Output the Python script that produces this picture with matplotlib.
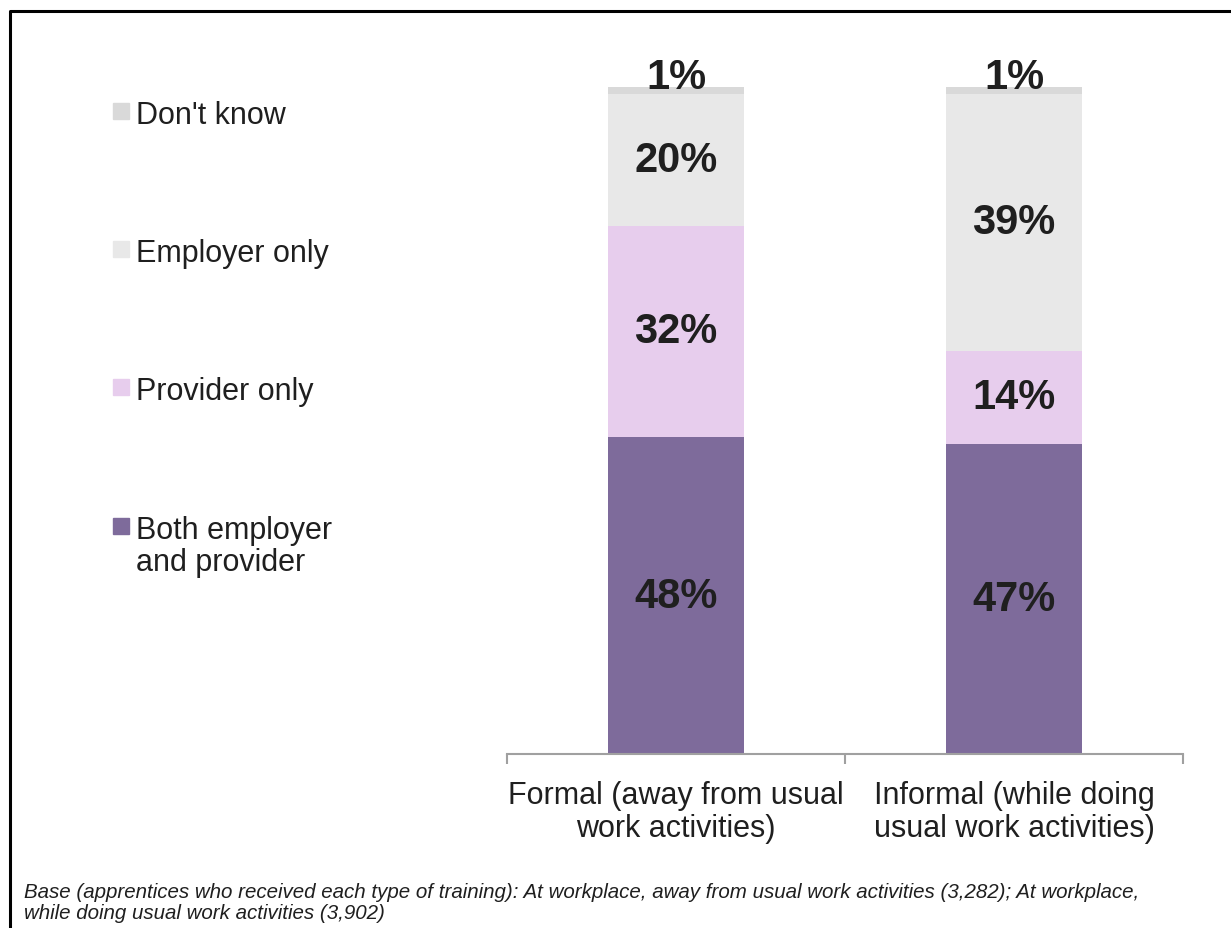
import numpy as np
import matplotlib.pyplot as plt
from matplotlib.patches import Rectangle
from matplotlib.lines import Line2D

plt.rcParams['font.family'] = ['Liberation Sans', 'DejaVu Sans']

# data (percent of apprentices)
categories = ['Formal (away from usual\nwork activities)',
              'Informal (while doing\nusual work activities)']
series = ['Both employer\nand provider', 'Provider only', 'Employer only', "Don't know"]
both_employer_provider = [48, 47]
provider_only = [32, 14]
employer_only = [20, 39]
dont_know = [1, 1]
values = [both_employer_provider, provider_only, employer_only, dont_know]
colors = ['#7E6B9B', '#E7CDED', '#E8E8E8', '#D9D9D9']

W, H = 1231, 929
fig = plt.figure(figsize=(W / 100, H / 100), dpi=100)
ax = fig.add_axes([507 / W, 1 - 755 / H, (1183 - 507) / W, (755 - 88) / H])

x = np.arange(len(categories))
bottom = np.zeros(len(categories))
for vals, col in zip(values, colors):
    ax.bar(x, vals, width=0.4, bottom=bottom, color=col, edgecolor='none')
    bottom += np.array(vals)

# segment labels
bottom = np.zeros(len(categories))
for i, vals in enumerate(values):
    for j, v in enumerate(vals):
        if i == len(values) - 1:
            ax.annotate(f'{v}%', (x[j], bottom[j] + v), xytext=(0, -1),
                        textcoords='offset points', ha='center', va='baseline',
                        fontsize=30, fontweight='bold', color='#1F1F1F',
                        annotation_clip=False)
        else:
            ax.text(x[j], bottom[j] + v / 2, f'{v}%', ha='center', va='center',
                    fontsize=30, fontweight='bold', color='#1F1F1F')
    bottom += np.array(vals)

ax.set_xlim(-0.5, 1.5)
ax.set_ylim(0, 101)
for s in ['top', 'right', 'left']:
    ax.spines[s].set_visible(False)
ax.spines['bottom'].set_color('#A0A0A0')
ax.spines['bottom'].set_linewidth(1.5)
ax.set_yticks([])
ax.set_xticks(x)
ax.set_xticklabels(categories, fontsize=22, color='#1F1F1F', linespacing=1.1)
ax.tick_params(axis='x', length=0, pad=19)
ax.set_xticks([-0.5, 0.5, 1.5], minor=True)
ax.tick_params(axis='x', which='minor', length=7, width=1.5, color='#A0A0A0', direction='out')

# legend drawn by hand, top item first
leg_y = [112, 250, 388, 527]
for k, (lab, col) in enumerate(zip(series[::-1], colors[::-1])):
    yc = 1 - leg_y[k] / H
    fig.patches.append(Rectangle((113 / W, yc - 8 / H), 16 / W, 16 / H,
                                 transform=fig.transFigure, color=col))
    fig.text(136 / W, yc + 11 / H, lab, fontsize=22, color='#1F1F1F',
             ha='left', va='top', linespacing=1.1)

# footnote
fig.text(24 / W, 1 - 919 / H,
         'Base (apprentices who received each type of training): At workplace, away from usual work activities (3,282); At workplace,\nwhile doing usual work activities (3,902)',
         fontsize=14.8, style='italic', color='#1F1F1F', ha='left', va='baseline',
         linespacing=1.1)

# frame
fig.lines.append(Line2D([9.5 / W, 9.5 / W, 1], [0, 1 - 11.5 / H, 1 - 11.5 / H],
                        transform=fig.transFigure, color='black', linewidth=2.2))

fig.savefig('out.png', dpi=100)
